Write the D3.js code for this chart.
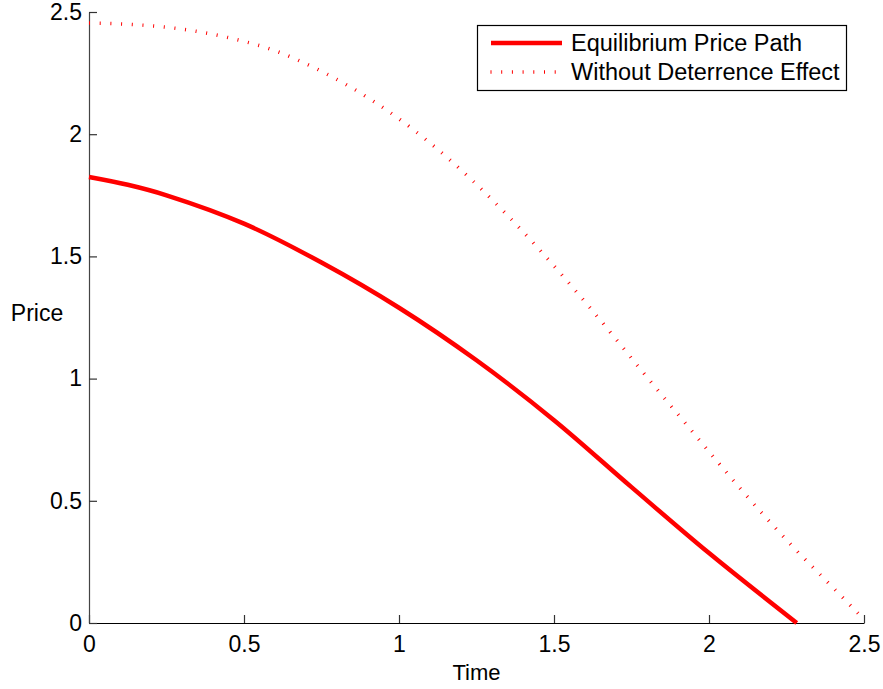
<!DOCTYPE html>
<html>
<head>
<meta charset="utf-8">
<script src="https://cdn.jsdelivr.net/npm/d3@7"></script>
<style>
  html, body { margin: 0; padding: 0; background: #fff; }
  svg { display: block; font-family: "Liberation Sans", Arial, Helvetica, sans-serif; }
</style>
</head>
<body>
<svg id="chart" width="883" height="689"></svg>
<script>
// ---- data ----
const seriesNames = ["Equilibrium Price Path", "Without Deterrence Effect"];
const timeEq  = [0, 0.125, 0.25, 0.5, 0.75, 1.0, 1.25, 1.5, 1.75, 2.0, 2.283];
const priceEq = [1.825, 1.793, 1.75, 1.634, 1.475, 1.29, 1.075, 0.83, 0.556, 0.286, 0.0];
const timeNo  = [0, 0.14, 0.294, 0.45, 0.616, 0.681, 0.842, 1.003, 1.165, 1.326, 1.46, 1.616, 1.791, 1.947, 2.103, 2.263, 2.41, 2.5];
const priceNo = [2.455, 2.449, 2.431, 2.395, 2.334, 2.299, 2.194, 2.060, 1.894, 1.699, 1.518, 1.290, 1.020, 0.782, 0.547, 0.322, 0.132, 0.015];
const xTicks = [0, 0.5, 1, 1.5, 2, 2.5];
const yTicks = [0, 0.5, 1, 1.5, 2, 2.5];
const xLabel = "Time";
const yLabel = "Price";

(function () {
// ---- layout ----
const svg = d3.select("#chart");
const mLeft = 89, mTop = 12, mRight = 864, mBottom = 623;
const x = d3.scaleLinear().domain([0, 2.5]).range([mLeft, mRight]);
const y = d3.scaleLinear().domain([0, 2.5]).range([mBottom, mTop]);
const tickFont = 23, legendFont = 23.5;

// axes
const fmt = d => String(d);
const gx = svg.append("g").attr("transform", `translate(0,${mBottom})`)
  .call(d3.axisBottom(x).tickValues(xTicks).tickFormat(fmt).tickSizeInner(-8).tickSizeOuter(0).tickPadding(13));
const gy = svg.append("g").attr("transform", `translate(${mLeft},0)`)
  .call(d3.axisLeft(y).tickValues(yTicks).tickFormat(fmt).tickSizeInner(-8).tickSizeOuter(0).tickPadding(7));
[gx, gy].forEach(g => {
  g.selectAll("text").attr("font-size", tickFont).attr("fill", "#000")
    .attr("font-family", "'Liberation Sans', Arial, Helvetica, sans-serif");
  g.select(".domain").attr("stroke", "#000").attr("stroke-width", 1.2);
  g.selectAll(".tick line").attr("stroke", "#333").attr("stroke-width", 1.2);
});
gy.select(".domain").attr("stroke", "#444");

// lines
const lineEq = d3.line().x(d => x(d[0])).y(d => y(d[1])).curve(d3.curveCatmullRom.alpha(0.5));
const lineNo = d3.line().x(d => x(d[0])).y(d => y(d[1])).curve(d3.curveMonotoneX);
const dataEq = timeEq.map((t, i) => [t, priceEq[i]]);
const dataNo = timeNo.map((t, i) => [t, priceNo[i]]);

svg.append("path").datum(dataNo).attr("d", lineNo)
  .attr("fill", "none").attr("stroke", "#ff0000").attr("stroke-width", 3.5)
  .attr("stroke-dasharray", "1 9.7");
svg.append("path").datum(dataEq).attr("d", lineEq)
  .attr("fill", "none").attr("stroke", "#ff0000").attr("stroke-width", 4.5)
  .attr("stroke-linejoin", "round");

// axis labels
svg.append("text").attr("x", (mLeft + mRight) / 2).attr("y", 680)
  .attr("text-anchor", "middle").attr("font-size", 22).text(xLabel);
svg.append("text").attr("x", 37).attr("y", 321)
  .attr("text-anchor", "middle").attr("font-size", tickFont).text(yLabel);

// legend
const lg = svg.append("g");
lg.append("rect").attr("x", 477.5).attr("y", 25.5).attr("width", 369).attr("height", 65)
  .attr("fill", "#fff").attr("stroke", "#000").attr("stroke-width", 1.2);
const legendRows = [
  { name: seriesNames[0], yy: 43, width: 4.5, dash: null },
  { name: seriesNames[1], yy: 72, width: 3.5, dash: "1 9.7" }
];
legendRows.forEach(r => {
  const l = lg.append("line").attr("x1", 491).attr("x2", 562).attr("y1", r.yy).attr("y2", r.yy)
    .attr("stroke", "#ff0000").attr("stroke-width", r.width);
  if (r.dash) l.attr("stroke-dasharray", r.dash).attr("x1", 490.5);
  lg.append("text").attr("x", 571).attr("y", r.yy).attr("dy", "0.36em")
    .attr("font-size", legendFont).text(r.name);
});
})();
</script>
</body>
</html>
